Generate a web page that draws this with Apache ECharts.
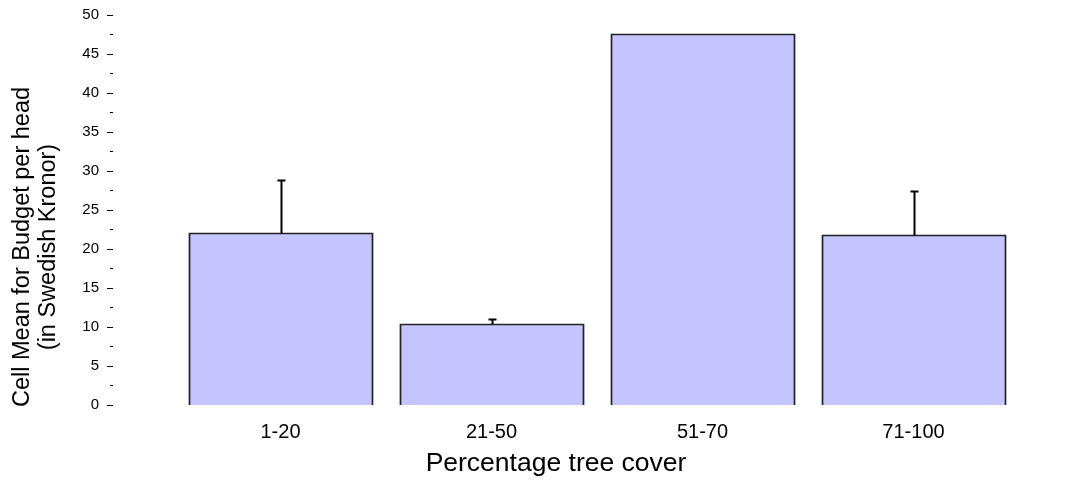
<!DOCTYPE html>
<html>
<head>
<meta charset="utf-8">
<script src="https://cdn.jsdelivr.net/npm/echarts@6/dist/echarts.min.js"></script>
<style>
  html, body { margin: 0; padding: 0; background: #fff; }
  #chart { width: 1079px; height: 480px; }
</style>
</head>
<body>
<div id="chart"></div>
<script>
// Tree-cover classes and the cell means with their upper error limits
const categories = ['1-20', '21-50', '51-70', '71-100'];
const cellMeans = [22.0, 10.4, 47.6, 21.8];
const upperLimits = [28.8, 11.0, null, 27.4];
const yTicks = [0, 5, 10, 15, 20, 25, 30, 35, 40, 45, 50];

const FONT = '"Liberation Sans", Arial, sans-serif';
const FILL = '#c4c4fe';
const EDGE = '#222222';
const GAP_RATIO = 0.13;

const chart = echarts.init(document.getElementById('chart'), null, { renderer: 'canvas' });

const seriesData = categories.map((c, i) => [i, cellMeans[i], upperLimits[i]]);

// Each bar: filled rectangle, open outline (no bottom edge) and an upper whisker
function renderBar(params, api) {
  const idx = api.value(0);
  const mean = api.value(1);
  const upper = api.value(2);
  const base = api.coord([idx, 0]);
  const top = api.coord([idx, mean]);
  const bandW = api.size([1, 0])[0];
  const w = bandW * (1 - GAP_RATIO);
  const x0 = Math.round(base[0] - w / 2) + 0.5;
  const x1 = Math.round(base[0] + w / 2) + 0.5;
  const yTop = Math.round(top[1]) + 0.5;
  const yBase = base[1];
  const children = [
    {
      type: 'rect',
      shape: { x: x0, y: yTop, width: x1 - x0, height: yBase - yTop },
      style: { fill: FILL }
    },
    {
      type: 'polyline',
      shape: { points: [[x0, yBase], [x0, yTop], [x1, yTop], [x1, yBase]] },
      style: { stroke: EDGE, lineWidth: 1.7, fill: null }
    }
  ];
  if (!isNaN(upper) && upper != null) {
    const cx = Math.round(base[0]) + 0.5;
    const yUp = Math.round(api.coord([idx, upper])[1]) + 0.5;
    children.push({
      type: 'line',
      shape: { x1: cx, y1: yTop, x2: cx, y2: yUp },
      style: { stroke: '#000', lineWidth: 2 }
    });
    children.push({
      type: 'line',
      shape: { x1: cx - 4, y1: yUp, x2: cx + 4, y2: yUp },
      style: { stroke: '#000', lineWidth: 2 }
    });
  }
  return { type: 'group', children: children };
}

chart.setOption({
  animation: false,
  backgroundColor: '#ffffff',
  textStyle: { fontFamily: FONT },
  grid: { left: 175, right: 60, top: 15, bottom: 75, containLabel: false },
  xAxis: {
    type: 'category',
    data: categories,
    axisLine: { show: false },
    axisTick: { show: false },
    axisLabel: { color: '#000', fontSize: 20, fontFamily: FONT, margin: 17 },
    splitLine: { show: false }
  },
  yAxis: {
    type: 'value',
    min: yTicks[0],
    max: yTicks[yTicks.length - 1],
    interval: yTicks[1] - yTicks[0],
    offset: 62,
    axisLine: { show: false },
    axisTick: { show: true, length: 6, lineStyle: { color: '#000', width: 1 } },
    minorTick: { show: true, splitNumber: 2, length: 3, lineStyle: { color: '#000', width: 1 } },
    axisLabel: { color: '#000', fontSize: 15, fontFamily: FONT, margin: 14 },
    splitLine: { show: false }
  },
  graphic: [
    {
      type: 'text',
      x: 556,
      y: 464,
      style: {
        text: 'Percentage tree cover',
        fontSize: 26.5,
        fontFamily: FONT,
        fill: '#000',
        align: 'center',
        verticalAlign: 'middle'
      }
    },
    {
      type: 'text',
      x: 36,
      y: 247,
      rotation: Math.PI / 2,
      style: {
        text: 'Cell Mean for Budget per head\n(in Swedish Kronor)',
        fontSize: 23.5,
        lineHeight: 26,
        fontFamily: FONT,
        fill: '#000',
        align: 'center',
        verticalAlign: 'middle'
      }
    }
  ],
  series: [
    {
      type: 'custom',
      renderItem: renderBar,
      data: seriesData,
      encode: { x: 0, y: 1 },
      clip: false
    }
  ]
});
</script>
</body>
</html>
